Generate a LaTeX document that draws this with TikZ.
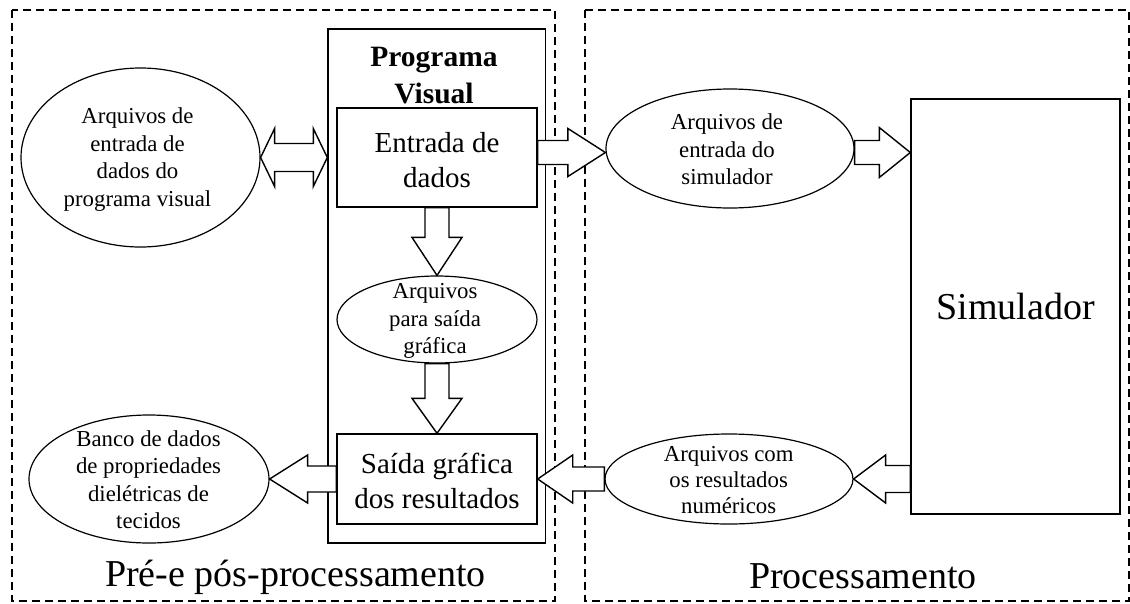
\documentclass[tikz,border=0pt]{standalone}
\usepackage{fontspec}
\setmainfont{Liberation Serif}
\usetikzlibrary{calc,shapes.geometric}

\tikzset{
  blk/.style={draw=black, line width=1.4pt, fill=white, line join=miter, miter limit=10},
  zone/.style={draw=black, line width=1.2pt, dash pattern=on 8pt off 5pt},
  box/.style={rectangle, draw=black, line width=1.4pt, fill=white, inner sep=0pt},
  ell/.style={ellipse, draw=black, line width=1.2pt, fill=white, inner sep=0pt},
  small/.style={align=center, inner sep=0pt, font=\fontsize{22.8}{27.5}\selectfont},
  mid/.style={align=center, inner sep=0pt, font=\fontsize{29}{35}\selectfont},
  big/.style={inner sep=0pt, font=\fontsize{38}{44}\selectfont},
  ttl/.style={align=center, inner sep=0pt, font=\bfseries\fontsize{29.5}{37}\selectfont},
}

% single block arrow: tail, tip, shaft half-width, head half-width, head length
\newcommand\sarrow[5]{%
  \path[blk] let \p1=(#1), \p2=(#2),
      \n1={atan2(\y2-\y1,\x2-\x1)}, \n2={veclen(\x2-\x1,\y2-\y1)} in
    [shift={(\p1)}, rotate=\n1]
    (0,#3) -- ({\n2-#5},#3) -- ({\n2-#5},#4) -- (\n2,0)
    -- ({\n2-#5},-#4) -- ({\n2-#5},-#3) -- (0,-#3) -- cycle;}

% double block arrow: tip, tip, shaft half-width, head half-width, head length
\newcommand\darrow[5]{%
  \path[blk] let \p1=(#1), \p2=(#2),
      \n1={atan2(\y2-\y1,\x2-\x1)}, \n2={veclen(\x2-\x1,\y2-\y1)} in
    [shift={(\p1)}, rotate=\n1]
    (0,0) -- (#5,#4) -- (#5,#3) -- ({\n2-#5},#3) -- ({\n2-#5},#4) -- (\n2,0)
    -- ({\n2-#5},-#4) -- ({\n2-#5},-#3) -- (#5,-#3) -- (#5,-#4) -- cycle;}

\begin{document}
\begin{tikzpicture}[x=1pt, y=-1pt]
  \fill[white] (0,0) rectangle (1130,603);
  \useasboundingbox (0,0) rectangle (1130,603);

  % the two stages
  \draw[zone] (12,10) rectangle (555,601);
  \draw[zone] (585,10) rectangle (1129,601);

  % visual program
  \node[box, minimum width=217.5pt, minimum height=514pt] (pv) at (436.75,286) {};
  \node[ttl] (pvtitle) at (434,75.5) {Programa\\Visual};
  \node[box, minimum width=200pt, minimum height=99pt] (ent) at (437,157.5) {};
  \node[mid] (enttxt) at (437,160.5) {Entrada de\\dados};
  \node[ell, minimum width=200pt, minimum height=87pt] (mell) at (437,319.5) {};
  \node[small] (melltxt) at (435,321) {Arquivos\\para saída\\gráfica};
  \node[box, minimum width=200pt, minimum height=90pt] (sai) at (437,479) {};
  \node[mid] (saitxt) at (437,481) {Saída gráfica\\dos resultados};

  % files of the pre- and post-processing stage
  \node[ell, minimum width=239pt, minimum height=179pt] (lell) at (140.5,157.5) {};
  \node[small] (lelltxt) at (137.5,159.5) {Arquivos de\\entrada de\\dados do\\programa visual};
  \node[ell, minimum width=240pt, minimum height=128pt] (bell) at (149,479) {};
  \node[small] (belltxt) at (148.5,479.5) {Banco de dados\\de propriedades\\dielétricas de\\tecidos};

  % processing stage
  \node[ell, minimum width=248pt, minimum height=119pt] (rell) at (730,148.5) {};
  \node[small] (relltxt) at (727,149.5) {Arquivos de\\entrada do\\simulador};
  \node[ell, minimum width=248pt, minimum height=90pt] (brell) at (729,479) {};
  \node[small, font=\fontsize{22.8}{26}\selectfont] (brelltxt) at (728.7,480) {Arquivos com\\os resultados\\numéricos};
  \node[box, minimum width=209pt, minimum height=415pt] (sim) at (1015.5,306.5) {};
  \node[big, anchor=base] (simtxt) at (1015.5,319) {Simulador};

  % stage labels
  \node[big, anchor=base] (prelbl) at (295.5,586) {Pré-e pós-processamento};
  \node[big, anchor=base] (proclbl) at (863,588) {Processamento};

  % data flow
  \coordinate (yin) at (0,152.5);
  \darrow{lell.east}{lell.east -| pv.west}{14}{29}{14}
  \sarrow{ent.east |- yin}{rell.west |- yin}{12}{24}{37.5}
  \sarrow{rell.east |- yin}{sim.west |- yin}{12}{25}{31}
  \sarrow{ent.south}{mell.north}{12}{25}{38}
  \sarrow{mell.south}{sai.north}{12}{25}{35}
  \sarrow{sai.west}{bell.east}{13}{24}{38}
  \sarrow{sim.west |- brell.east}{brell.east}{13.5}{24}{32}
  \sarrow{brell.west}{sai.east}{12}{24}{35}
\end{tikzpicture}
\end{document}
